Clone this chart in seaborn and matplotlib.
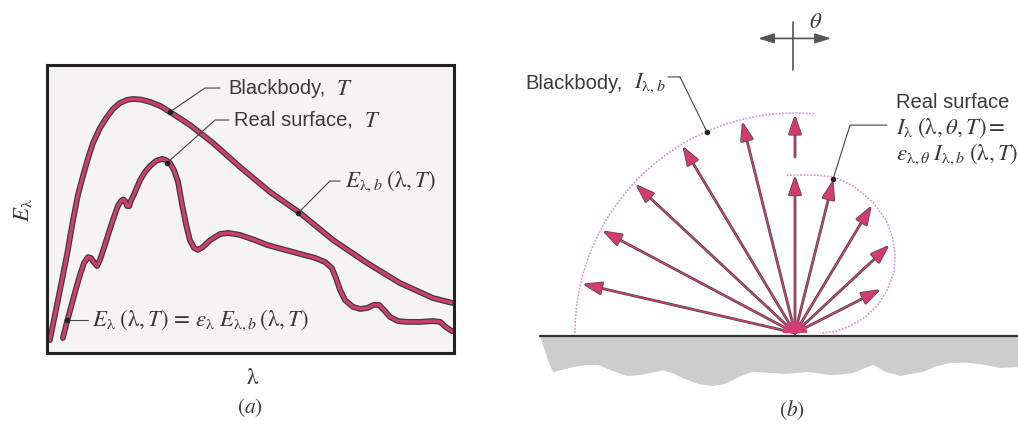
import numpy as np
import matplotlib
matplotlib.use("Agg")
import matplotlib.pyplot as plt
import matplotlib.patheffects as pe
from matplotlib.patches import Wedge, Polygon
import seaborn as sns

# ---------------------------------------------------------------
# (a) spectral emissive power, arbitrary units (lambda 0-100, E 0-100)
# ---------------------------------------------------------------
bb_lambda = [0.7, 2.7, 4.9, 6.4, 7.6, 8.9, 10.1, 11.3, 13.0, 14.7, 16.2, 17.9,
             19.7, 21.1, 23.1, 25.3, 27.8, 30.2, 35.1, 40.8, 47.4, 54.8, 62.2,
             70.3, 78.6, 86.7, 94.8, 99.5]
bb_E = [4.5, 18.4, 34.0, 46.2, 54.9, 61.8, 67.7, 72.9, 78.1, 81.9, 84.7, 86.8,
        87.9, 88.2, 88.0, 87.2, 85.8, 83.7, 79.2, 72.9, 64.6, 55.9, 48.6,
        39.2, 31.3, 24.3, 19.1, 17.4]

real_lambda = [3.9, 4.7, 5.7, 6.9, 8.1, 9.1, 10.1, 10.8, 11.6, 12.3,
               13.0, 14.0, 15.0, 16.2, 17.4, 18.2, 18.7, 19.2, 19.7, 20.2,
               20.6, 21.4, 22.9, 24.1, 25.3, 26.8, 28.3, 29.2, 30.2, 31.2,
               32.2, 33.2, 34.2, 35.1, 36.1, 37.1, 38.3, 40.1, 42.5, 44.5,
               47.4, 51.1, 54.1, 58.5, 62.2, 65.9, 68.3, 70.0, 71.0, 72.0,
               73.2, 75.2, 76.9, 78.6, 80.3, 81.6, 82.8, 84.3, 86.2, 88.5,
               91.7, 94.8, 96.6, 98.0, 99.5]
real_E = [5.2, 9.7, 14.9, 21.2, 27.1, 31.3, 33.3, 33.0, 31.3, 30.2,
          32.3, 36.5, 41.0, 46.2, 51.0, 52.8, 53.3, 52.8, 51.0, 51.0,
          52.8, 55.2, 60.1, 62.9, 64.9, 66.7, 67.4, 67.0, 66.0, 63.5,
          59.4, 51.4, 44.4, 39.2, 36.5, 35.8, 36.8, 39.2, 41.3, 41.7,
          41.0, 39.2, 37.5, 35.8, 34.4, 33.0, 31.6, 29.5, 26.0, 21.9,
          18.4, 16.0, 15.3, 15.6, 16.7, 16.7, 14.9, 12.5, 11.1, 10.8,
          10.8, 11.1, 10.8, 9.0, 7.6]

# ---------------------------------------------------------------
# (b) directional intensity, relative to the blackbody value
#     polar angle theta in degrees from the surface normal
# ---------------------------------------------------------------
bb_intensity = 1.0
bb_arrow_theta = [-77, -62, -47, -31, -14]
real_curve_theta = [-3, 0, 7, 14, 22, 31, 39, 46, 52, 58, 65, 71, 77, 83, 88, 90]
real_curve_I = [0.718, 0.718, 0.723, 0.732, 0.718, 0.691, 0.659, 0.618, 0.577,
                0.532, 0.464, 0.400, 0.332, 0.250, 0.182, 0.114]
real_arrow_theta = [0, 14, 31, 47, 63]
real_arrow_I = [0.71, 0.71, 0.67, 0.58, 0.43]

# rough underside of the emitting body
ground_x = [-1.159, -1.145, -1.123, -1.100, -1.060, -1.009, -0.950, -0.895,
            -0.830, -0.764, -0.710, -0.659, -0.600, -0.550, -0.509, -0.440,
            -0.373, -0.320, -0.282, -0.235, -0.191, -0.100, -0.036, 0.055,
            0.110, 0.159, 0.215, 0.264, 0.310, 0.355, 0.415, 0.477, 0.582,
            0.640, 0.705, 0.775, 0.841, 0.932, 1.014]
ground_y = [-0.018, -0.055, -0.123, -0.177, -0.168, -0.155, -0.146, -0.145,
            -0.172, -0.195, -0.192, -0.182, -0.170, -0.185, -0.205, -0.232,
            -0.241, -0.232, -0.214, -0.190, -0.177, -0.182, -0.186, -0.177,
            -0.184, -0.191, -0.188, -0.182, -0.163, -0.145, -0.178, -0.195,
            -0.177, -0.152, -0.136, -0.135, -0.141, -0.159, -0.155]

# ---------------------------------------------------------------
sns.set_theme(style="white")
plt.rcParams["font.family"] = ["Liberation Sans", "DejaVu Sans"]
plt.rcParams["mathtext.fontset"] = "stix"

PINK = "#d23c70"
DARK = "#3c3c3c"
TXT = "#3a3a3a"
DOTPINK = "#e38fd2"
FS = 14.5
MFS = 16.5

W, H = 1018, 428
fig = plt.figure(figsize=(W / 100, H / 100), dpi=100)
fig.patch.set_facecolor("white")


def fx(px):
    return px / W


def fy(py):
    return 1 - py / H


# ---------------------------- (a) ----------------------------
ax = fig.add_axes([fx(47), fy(353), 407 / W, 288 / H])
ax.set_facecolor("#f6f3f4")
ax.set_xlim(0, 100)
ax.set_ylim(0, 100)
ax.set_xticks([])
ax.set_yticks([])
for s in ax.spines.values():
    s.set_color("#222222")
    s.set_linewidth(2.2)

outline = [pe.Stroke(linewidth=4.2, foreground=DARK), pe.Normal()]
sns.lineplot(x=bb_lambda, y=bb_E, sort=False, estimator=None, ax=ax,
             color=PINK, linewidth=2.4, path_effects=outline)
sns.lineplot(x=real_lambda, y=real_E, sort=False, estimator=None, ax=ax,
             color=PINK, linewidth=2.4, path_effects=outline)

lead = dict(color="#444444", lw=0.8, clip_on=False)
LAM = r"\mathrm{\lambda}"
# Blackbody, T
ax.plot([30.2, 38.8, 42.5], [83.7, 92.0, 92.0], **lead)
ax.plot([30.2], [83.7], "o", color="#222", ms=3)
ax.text(44.5, 92.0, "Blackbody,", fontsize=FS, color=TXT, va="center")
ax.text(71.0, 92.0, r"$T$", fontsize=MFS, color=TXT, va="center")
# Real surface, T
ax.plot([29.5, 41.3, 44.7], [66.0, 80.9, 80.9], **lead)
ax.plot([29.5], [66.0], "o", color="#222", ms=3)
ax.text(45.9, 80.9, "Real surface,", fontsize=FS, color=TXT, va="center")
ax.text(78.0, 80.9, r"$T$", fontsize=MFS, color=TXT, va="center")
# E_lambda,b
ax.plot([61.7, 69.5, 72.0], [48.6, 59.7, 59.7], **lead)
ax.plot([61.7], [48.6], "o", color="#222", ms=3)
ax.text(73.2, 59.7, rf"$E_{{{LAM},b}}\;({LAM},T)$", fontsize=MFS,
        color=TXT, va="center")
# E_lambda relation
ax.plot([4.9, 10.1], [11.5, 11.5], **lead)
ax.plot([4.9], [11.5], "o", color="#222", ms=3)
ax.text(11.1, 11.5,
        rf"$E_{{{LAM}}}\;({LAM},T)\,=\,\varepsilon_{{{LAM}}}\;E_{{{LAM},b}}\,({LAM},T)$",
        fontsize=MFS, color=TXT, va="center")

fig.text(fx(22), fy(210), rf"$E_{{{LAM}}}$", fontsize=MFS, color=TXT,
         rotation=90, ha="center", va="center")
fig.text(fx(253), fy(377), rf"${LAM}$", fontsize=MFS, color=TXT,
         ha="center", va="center")
fig.text(fx(250), fy(408), r"$(a)$", fontsize=FS + 1, color=TXT,
         ha="center", va="center")

# ---------------------------- (b) ----------------------------
R = 220.0  # pixels per unit intensity
axb = fig.add_axes([fx(500), 0, 518 / W, 1])
axb.set_xlim((500 - 795) / R, (1018 - 795) / R)
axb.set_ylim((333 - 428) / R, 333 / R)
axb.axis("off")

# body below the surface
poly = list(zip(ground_x, ground_y)) + [(1.014, -0.012), (-1.159, -0.012)]
axb.add_patch(Polygon(poly, closed=True, facecolor="#cdcdcd",
                      edgecolor="none", zorder=1))
axb.plot([-1.159, 1.014], [-0.012, -0.012], color="#333333", lw=1.6, zorder=2)


def polar(theta_deg, r):
    t = np.radians(np.asarray(theta_deg, dtype=float))
    r = np.asarray(r, dtype=float)
    return r * np.sin(t), r * np.cos(t)


# blackbody hemisphere (diffuse: constant intensity)
arc_t = np.linspace(-90, 5, 200)
ax_, ay_ = polar(arc_t, np.full_like(arc_t, bb_intensity))
sns.lineplot(x=ax_, y=ay_, sort=False, estimator=None, ax=axb,
             color=DOTPINK, linewidth=1.1, linestyle=(0, (1.2, 1.0)), zorder=3)

# real surface pattern
rx, ry = polar(real_curve_theta, real_curve_I)
sns.lineplot(x=rx, y=ry, sort=False, estimator=None, ax=axb,
             color=DOTPINK, linewidth=1.1, linestyle=(0, (1.2, 1.0)), zorder=3)

shaft_fx = [pe.Stroke(linewidth=2.0, foreground="#4a4a4a"), pe.Normal()]


def ray(x0, y0, x1, y1):
    axb.annotate("", xy=(x1, y1), xytext=(x0, y0),
                 arrowprops=dict(arrowstyle="-|>,head_length=0.95,head_width=0.33",
                                 color=PINK, lw=1.0, shrinkA=0, shrinkB=0,
                                 path_effects=shaft_fx),
                 zorder=4)


for t in bb_arrow_theta:
    x1, y1 = polar(t, bb_intensity * 0.985)
    ray(0, 0, float(x1), float(y1))
# blackbody normal direction continues above the real-surface arrow
ray(0, 0.80, 0, bb_intensity * 0.985)
for t, i in zip(real_arrow_theta, real_arrow_I):
    x1, y1 = polar(t, i)
    ray(0, 0, float(x1), float(y1))

axb.add_patch(Wedge((0, 0), 0.055, 0, 180, facecolor=PINK, edgecolor="none",
                    zorder=5))

# leader for the blackbody label
axb.plot([-0.577, -0.523, -0.400], [1.164, 1.164, 0.914], color="#444", lw=0.8)
axb.plot([-0.400], [0.914], "o", color="#222", ms=3, zorder=6)
axb.text(-1.227, 1.136, "Blackbody,", fontsize=FS, color=TXT,
         va="center", ha="left")
axb.text(-0.730, 1.136, rf"$I_{{{LAM},b}}$", fontsize=MFS, color=TXT,
         va="center", ha="left")

# leader for the real surface label
axb.plot([0.418, 0.250, 0.173], [0.945, 0.945, 0.700], color="#444", lw=0.8)
axb.plot([0.173], [0.700], "o", color="#222", ms=3, zorder=6)
axb.text(0.459, 1.050, "Real surface", fontsize=FS, color=TXT, va="center")
axb.text(0.459, 0.932, rf"$I_{{{LAM}}}\;({LAM},\theta,T) =$", fontsize=MFS,
         color=TXT, va="center")
axb.text(0.459, 0.814,
         rf"$\varepsilon_{{{LAM},\theta}}\;I_{{{LAM},b}}\;({LAM},T)$",
         fontsize=MFS, color=TXT, va="center", clip_on=False)

# angle indicator
axb.plot([-0.009, -0.009], [1.414, 1.195], color="#555", lw=1.2)
axb.annotate("", xy=(0.164, 1.339), xytext=(-0.168, 1.339),
             arrowprops=dict(arrowstyle="<|-|>,head_length=0.8,head_width=0.25",
                             color="#555", lw=1.2, shrinkA=0, shrinkB=0))
axb.text(0.095, 1.414, r"$\theta$", fontsize=MFS, color=TXT,
         ha="center", va="center")

fig.text(fx(792), fy(410), r"$(b)$", fontsize=FS + 1, color=TXT,
         ha="center", va="center")

fig.savefig("out.png", dpi=100, facecolor="white")
